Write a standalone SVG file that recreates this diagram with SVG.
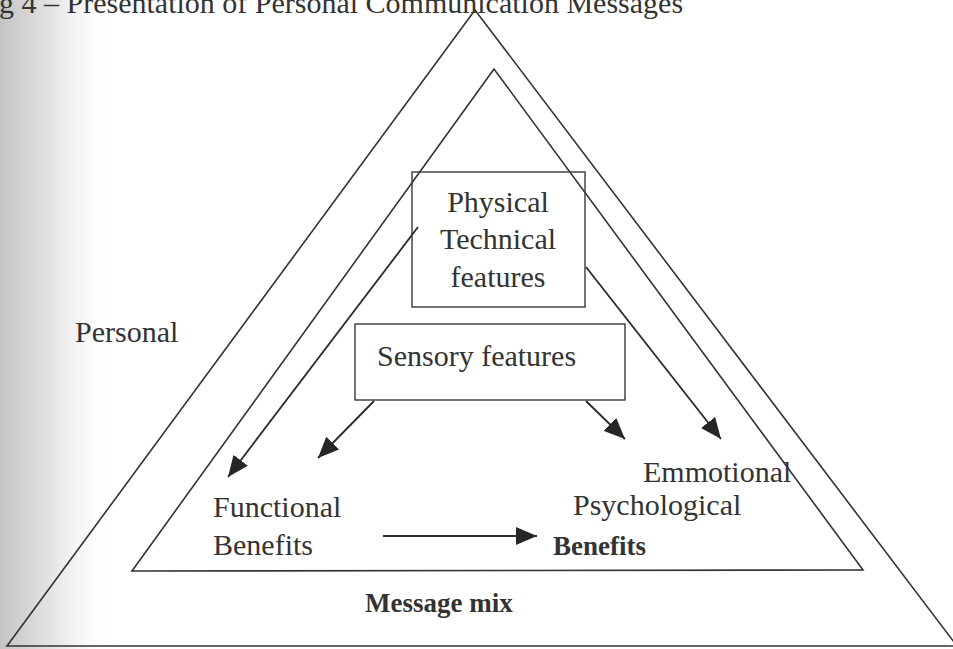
<svg xmlns="http://www.w3.org/2000/svg" width="953" height="649" viewBox="0 0 953 649">
  <defs>
    <linearGradient id="edgeShade" x1="0" y1="0" x2="1" y2="0">
      <stop offset="0" stop-color="#c4c4c4"/>
      <stop offset="0.45" stop-color="#e6e6e6"/>
      <stop offset="1" stop-color="#ffffff" stop-opacity="0"/>
    </linearGradient>
    <marker id="arrowHead" markerUnits="userSpaceOnUse" markerWidth="22" markerHeight="18" refX="21" refY="9" orient="auto">
      <path d="M0,0 L21,9 L0,18 Z" fill="#262626"/>
    </marker>
    <style>
      .frame { fill: none; stroke: #333; stroke-width: 1.6; stroke-linejoin: miter; }
      .box { fill: none; stroke: #3a3a3a; stroke-width: 1.4; }
      .link { fill: none; stroke: #2a2a2a; stroke-width: 1.8; marker-end: url(#arrowHead); }
      .lbl { font-family: "Liberation Serif", "Times New Roman", serif; font-size: 30px; fill: #333; }
      .bold { font-weight: bold; font-size: 27px; }
    </style>
  </defs>

  <rect width="953" height="649" fill="#ffffff"/>
  <!-- soft grey shading along the left page edge -->
  <rect x="0" y="0" width="120" height="649" fill="url(#edgeShade)"/>

  <!-- heading line, partly cut off at the top edge -->
  <text class="lbl" x="-1" y="13">g 4 – Presentation of Personal Communication Messages</text>

  <!-- nested triangles -->
  <g id="outer-triangle">
    <path class="frame" d="M475,10 L7,646 L957,646 Z"/>
    <text class="lbl" x="75" y="342">Personal</text>
    <text class="lbl bold" x="365" y="612">Message mix</text>
  </g>
  <g id="inner-triangle">
    <path class="frame" d="M494,69 L132,571 L863,570 Z"/>
  </g>

  <g id="physical-technical">
    <rect class="box" x="412" y="172" width="173" height="135"/>
    <text class="lbl" x="498" y="212" text-anchor="middle">Physical</text>
    <text class="lbl" x="498" y="249" text-anchor="middle">Technical</text>
    <text class="lbl" x="498" y="287" text-anchor="middle">features</text>
  </g>

  <g id="sensory">
    <rect class="box" x="355" y="324" width="270" height="76"/>
    <text class="lbl" x="377" y="366">Sensory features</text>
  </g>

  <g id="functional">
    <text class="lbl" x="213" y="517">Functional</text>
    <text class="lbl" x="213" y="555">Benefits</text>
  </g>

  <g id="emotional">
    <text class="lbl" x="643" y="482">Emmotional</text>
    <text class="lbl" x="573" y="515">Psychological</text>
    <text class="lbl bold" x="553" y="555">Benefits</text>
  </g>

  <g id="connectors">
    <line class="link" x1="418" y1="227" x2="228" y2="477"/>
    <line class="link" x1="374" y1="401" x2="318" y2="458"/>
    <line class="link" x1="586" y1="401" x2="625" y2="439"/>
    <line class="link" x1="586" y1="267" x2="721" y2="439"/>
    <line class="link" x1="383" y1="536" x2="537" y2="536"/>
  </g>
</svg>
